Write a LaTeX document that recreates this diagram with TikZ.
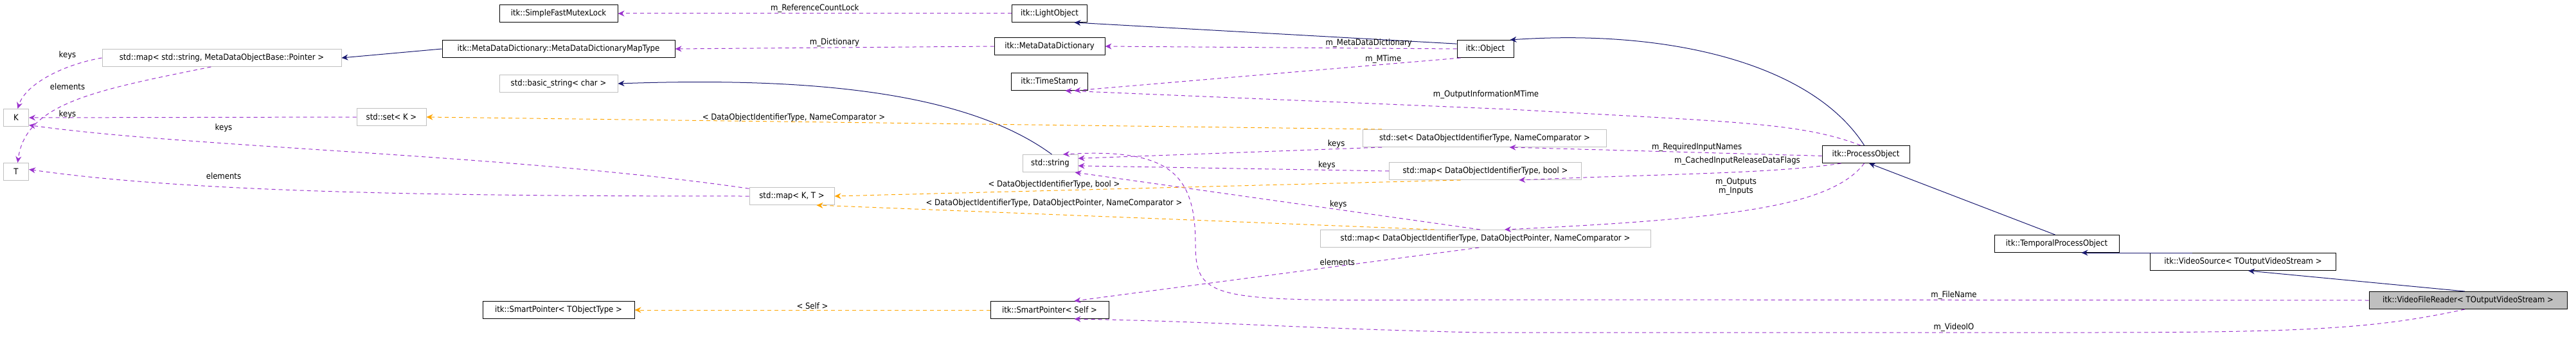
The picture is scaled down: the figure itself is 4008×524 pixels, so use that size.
\documentclass[tikz,border=0pt]{standalone}
\usepackage{fontspec}
\setmainfont{DejaVu Sans Condensed}
\usetikzlibrary{arrows.meta}
\definecolor{navy}{HTML}{191970}
\definecolor{usecol}{HTML}{9A32CD}
\definecolor{tplcol}{HTML}{FFA500}
\definecolor{boxgray}{HTML}{BFBFBF}
\tikzset{
  cls/.style={draw=black, line width=1pt, minimum height=27pt, inner sep=2pt, font=\fontsize{13}{14}\selectfont},
  ext/.style={cls, draw=boxgray},
  inherit/.style={draw=navy, line width=1pt, -{Stealth[length=10pt,width=9pt]}},
  uses/.style={draw=usecol, line width=1pt, dash pattern=on 6pt off 5pt, -{Stealth[length=10pt,width=9pt]}, color=usecol},
  tpl/.style={draw=tplcol, line width=1pt, dash pattern=on 6pt off 5pt, -{Stealth[length=10pt,width=9pt]}},
  lbl/.style={font=\fontsize{13}{14}\selectfont, text=black, inner sep=1pt}
}
\begin{document}
\begin{tikzpicture}[x=1pt, y=-1pt]
    \useasboundingbox (0,0) rectangle (4008,524);
    % classes
    \node [ext, minimum width=39pt] (k) at (25,183) {K};
    \node [ext, minimum width=39pt] (t) at (25,267) {T};
    \node [ext, minimum width=372pt] (mdmap) at (345,90) {std::map< std::string, MetaDataObjectBase::Pointer >};
    \node [ext, minimum width=108pt] (setk) at (609,182) {std::set< K >};
    \node [cls, minimum width=184pt] (mutex) at (869,21) {itk::SimpleFastMutexLock};
    \node [cls, minimum width=362pt] (maptype) at (869,76) {itk::MetaDataDictionary::MetaDataDictionaryMapType};
    \node [ext, minimum width=184pt] (bstring) at (869,130) {std::basic\_string< char >};
    \node [cls, minimum width=236pt] (sptype) at (869,482) {itk::SmartPointer< TObjectType >};
    \node [cls, minimum width=117pt] (light) at (1633,21) {itk::LightObject};
    \node [cls, minimum width=172pt] (mdd) at (1633,72) {itk::MetaDataDictionary};
    \node [cls, minimum width=119pt] (stamp) at (1633,127) {itk::TimeStamp};
    \node [ext, minimum width=86pt] (string) at (1634,254) {std::string};
    \node [ext, minimum width=132pt] (mapkt) at (1232,305) {std::map< K, T >};
    \node [cls, minimum width=184pt] (spself) at (1633,482) {itk::SmartPointer< Self >};
    \node [cls, minimum width=88pt] (object) at (2311,76) {itk::Object};
    \node [ext, minimum width=379pt] (setid) at (2310,215) {std::set< DataObjectIdentifierType, NameComparator >};
    \node [ext, minimum width=299pt] (mapbool) at (2311,266) {std::map< DataObjectIdentifierType, bool >};
    \node [ext, minimum width=514pt] (mapptr) at (2311,371) {std::map< DataObjectIdentifierType, DataObjectPointer, NameComparator >};
    \node [cls, minimum width=136pt] (process) at (2903,240) {itk::ProcessObject};
    \node [cls, minimum width=194pt] (temporal) at (3200,379) {itk::TemporalProcessObject};
    \node [cls, minimum width=289pt] (source) at (3490,407) {itk::VideoSource< TOutputVideoStream >};
    \node [cls, minimum width=308pt, fill=boxgray] (reader) at (3840,467) {itk::VideoFileReader< TOutputVideoStream >};
    % inheritance
    \draw [inherit] (maptype.west) -- (mdmap.east);
    \draw [inherit] (object.170) -- (light.-20);
    \draw [inherit] (string.80) .. controls (1500,140) and (1250,120) .. (bstring.east);
    \draw [inherit] (process.100) .. controls (2820,100) and (2600,45) .. (object.20);
    \draw [inherit] (temporal.100) -- (process.-70);
    \draw [inherit] (source.170) -- (temporal.-20);
    \draw [inherit] (reader.110) -- (source.-60);
    % members
    \draw [uses] (light.west) -- node [lbl, above] {m\_ReferenceCountLock} (mutex.east);
    \draw [uses] (mdd.west) -- node [lbl, above] {m\_Dictionary} (maptype.east);
    \draw [uses] (object.west) -- node [lbl, above, pos=0.25] {m\_MetaDataDictionary} (mdd.east);
    \draw [uses] (object.200) -- node [lbl, above, pos=0.2] {m\_MTime} (stamp.-20);
    \draw [uses] (process.120) .. controls (2800,190) and (2700,190) .. (2350,170) -- (stamp.-30);
    \node [lbl] (outinfo) at (2312,147) {m\_OutputInformationMTime};
    \draw [uses] (mdmap.west) .. controls (100,100) and (40,130) .. (k.80);
    \node [lbl] (mdkeys) at (105,86) {keys};
    \draw [uses] (mdmap.-140) .. controls (150,140) and (40,160) .. (t.80);
    \node [lbl] (mdelem) at (105,135) {elements};
    \draw [uses] (setk.west) -- (k.east);
    \node [lbl] (setkeys) at (105,178) {keys};
    \draw [uses] (mapkt.170) .. controls (800,240) and (300,230) .. (k.-30);
    \node [lbl] (mapkeys) at (348,199) {keys};
    \draw [uses] (mapkt.west) .. controls (700,305) and (300,300) .. (t.10);
    \node [lbl] (mapelem) at (348,274) {elements};
    \draw [uses] (setid.-175) -- node [lbl, above, pos=0.15] {keys} (string.10);
    \draw [uses] (mapbool.west) -- node [lbl, above, pos=0.2] {keys} (string.-5);
    \draw [uses] (mapptr.120) -- node [lbl, above, pos=0.35] {keys} (string.-20);
    \draw [uses] (mapptr.-125) -- node [lbl, above, pos=0.35] {elements} (spself.20);
    \draw [uses] (process.-178) -- node [lbl, above, pos=0.4] {m\_RequiredInputNames} (setid.-20);
    \draw [uses] (process.-160) .. controls (2760,270) and (2600,270) .. (mapbool.-15);
    \node [lbl] (cached) at (2703,250) {m\_CachedInputReleaseDataFlags};
    \draw [uses] (process.-100) .. controls (2850,320) and (2700,340) .. (mapptr.25);
    \node [lbl, align=center] (ports) at (2701,290) {m\_Outputs\\m\_Inputs};
    \draw [uses] (reader.west) -- (2400,466) .. controls (1900,466) and (1860,480) .. (1860,380) .. controls (1860,270) and (1820,230) .. (string.35);
    \node [lbl] (fname) at (3040,459) {m\_FileName};
    \draw [uses] (reader.-110) .. controls (3700,510) and (3600,517) .. (3250,517) -- (2300,517) .. controls (2000,510) and (1900,500) .. (spself.-20);
    \node [lbl] (videoio) at (3040,509) {m\_VideoIO};
    % template instances
    \draw [tpl] (setid.175) -- (setk.east);
    \node [lbl] (setargs) at (1235,183) {< DataObjectIdentifierType, NameComparator >};
    \draw [tpl] (mapbool.-160) -- (mapkt.east);
    \node [lbl] (boolargs) at (1640,287) {< DataObjectIdentifierType, bool >};
    \draw [tpl] (mapptr.170) -- (mapkt.-20);
    \node [lbl] (ptrargs) at (1640,316) {< DataObjectIdentifierType, DataObjectPointer, NameComparator >};
    \draw [tpl] (spself.west) -- node [lbl, above] {< Self >} (sptype.east);
\end{tikzpicture}
\end{document}
